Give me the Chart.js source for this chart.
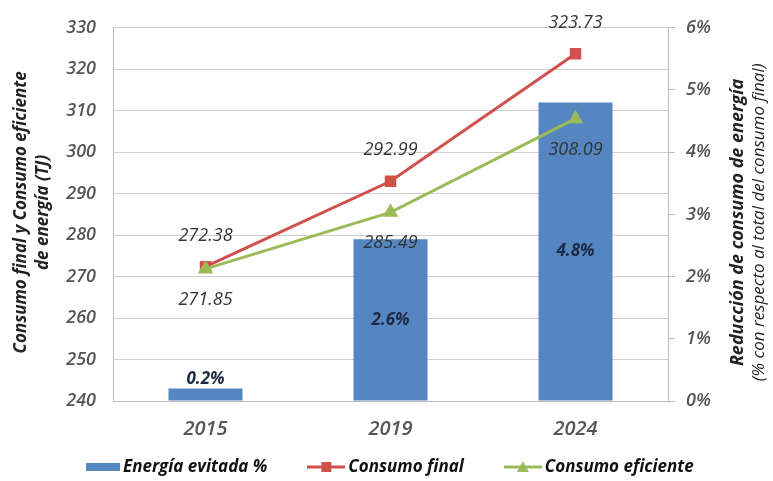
<!DOCTYPE html>
<html>
<head>
<meta charset="utf-8">
<script src="https://cdn.jsdelivr.net/npm/chart.js@4"></script>
<style>
  html, body { margin: 0; padding: 0; background: #fff; }
  #wrap { width: 773px; height: 481px; }
</style>
</head>
<body>
<div id="wrap"><canvas id="myChart" width="773" height="481"></canvas></div>
<script>
const years = ["2015", "2019", "2024"];
const consumo_final = [272.38, 292.99, 323.73];
const consumo_eficiente = [271.85, 285.49, 308.09];
const energia_evitada = [0.2, 2.6, 4.8]; // percent

const FONT = "'Open Sans', 'DejaVu Sans', sans-serif";
const TEXT = "#555";

// legend symbols: short line with the marker in the middle
function legendIcon(type, color) {
  const c = document.createElement("canvas");
  c.width = 38; c.height = 14;
  const g = c.getContext("2d");
  if (type === "bar") {
    g.fillStyle = color;
    g.fillRect(4, 3, 34, 8);
    return c;
  }
  g.strokeStyle = color;
  g.lineWidth = 3;
  g.beginPath(); g.moveTo(0, 7); g.lineTo(38, 7); g.stroke();
  g.fillStyle = color;
  if (type === "rect") {
    g.fillRect(14, 2, 10, 10);
  } else {
    g.beginPath(); g.moveTo(19, 1); g.lineTo(25, 12); g.lineTo(13, 12); g.closePath(); g.fill();
  }
  return c;
}

// value labels, axis titles and legend drawn on the canvas
const decorations = {
  id: "decorations",
  afterDatasetsDraw(chart) {
    const ctx = chart.ctx;
    ctx.save();
    ctx.textAlign = "center";
    ctx.textBaseline = "middle";

    // bar percentages
    const bars = chart.getDatasetMeta(0);
    ctx.font = "italic bold 17px " + FONT;
    ctx.fillStyle = "#1c2a44";
    bars.data.forEach((el, i) => {
      const h = el.base - el.y;
      const y = h > 40 ? el.y + h / 2 : el.y - 9;
      ctx.fillText(energia_evitada[i].toFixed(1) + "%", el.x, y);
    });

    // line values: final above, eficiente below
    ctx.font = "italic 18px " + FONT;
    ctx.fillStyle = "#333";
    chart.getDatasetMeta(1).data.forEach((el, i) => {
      ctx.fillText(consumo_final[i].toFixed(2), el.x, el.y - 31);
    });
    chart.getDatasetMeta(2).data.forEach((el, i) => {
      ctx.fillText(consumo_eficiente[i].toFixed(2), el.x, el.y + 31);
    });
    ctx.restore();
  },
  afterDraw(chart) {
    const ctx = chart.ctx;
    const area = chart.chartArea;
    const midY = (area.top + area.bottom) / 2;
    ctx.save();
    ctx.fillStyle = "#222";
    ctx.textAlign = "center";
    ctx.textBaseline = "middle";

    // left axis title
    ctx.save();
    ctx.translate(21, midY - 2);
    ctx.rotate(-Math.PI / 2);
    ctx.font = "italic bold 17px " + FONT;
    ctx.fillText("Consumo final y Consumo eficiente", 0, 0);
    ctx.fillText("de energía (TJ)", 0, 22);
    ctx.restore();

    // right axis title
    ctx.save();
    ctx.translate(738, midY + 8);
    ctx.rotate(-Math.PI / 2);
    ctx.font = "italic bold 18px " + FONT;
    ctx.fillText("Reducción de consumo de energía", 0, 0);
    ctx.font = "italic 17px " + FONT;
    ctx.fillText("(% con respecto al total del consumo final)", 0, 21);
    ctx.restore();

    // legend
    ctx.font = "italic bold 17px " + FONT;
    ctx.textAlign = "left";
    ctx.fillStyle = "#111";
    const y = 467;
    let x = 82;
    chart.data.datasets.forEach(d => {
      ctx.drawImage(d.legendIcon, x, y - 7);
      ctx.fillText(d.label, x + 41, y);
      x += 41 + ctx.measureText(d.label).width + 40;
    });
    ctx.restore();
  }
};

const data = {
  labels: years,
  datasets: [
    {
      type: "bar",
      label: "Energía evitada %",
      data: energia_evitada.map(v => v / 100),
      backgroundColor: "#5686c2",
      yAxisID: "y1",
      barPercentage: 0.8,
      categoryPercentage: 0.5,
      order: 2,
      legendIcon: legendIcon("bar", "#5686c2"),
    },
    {
      type: "line",
      label: "Consumo final",
      data: consumo_final,
      borderColor: "#d0504c",
      backgroundColor: "#d0504c",
      borderWidth: 3,
      pointStyle: "rect",
      pointRadius: 6,
      pointHoverRadius: 6,
      yAxisID: "y",
      order: 1,
      legendIcon: legendIcon("rect", "#d0504c"),
    },
    {
      type: "line",
      label: "Consumo eficiente",
      data: consumo_eficiente,
      borderColor: "#9bbb59",
      backgroundColor: "#9bbb59",
      borderWidth: 3,
      pointStyle: "triangle",
      pointRadius: 6,
      pointHoverRadius: 6,
      yAxisID: "y",
      order: 0,
      legendIcon: legendIcon("tri", "#9bbb59"),
    },
  ],
};

const tickFont = { family: FONT, size: 18, style: "italic", weight: "600" };

const config = {
  type: "bar",
  data,
  plugins: [decorations],
  options: {
    responsive: false,
    animation: false,
    layout: { padding: { top: 19, bottom: 40, left: 0, right: 0 } },
    plugins: {
      legend: { display: false },
      tooltip: { enabled: false },
    },
    scales: {
      x: {
        offset: true,
        grid: { display: false },
        border: { color: "#bdbdbd" },
        ticks: { color: TEXT, font: { family: FONT, size: 20, style: "italic", weight: "600" }, padding: 8 },
        afterFit(scale) { scale.height = 40; },
      },
      y: {
        position: "left",
        min: 240,
        max: 330,
        ticks: { stepSize: 10, color: TEXT, font: tickFont, padding: 17 },
        grid: { color: "#cfcfcf", drawTicks: false },
        border: { color: "#bdbdbd" },
        afterFit(scale) { scale.width = 113; },
      },
      y1: {
        position: "right",
        min: 0,
        max: 0.06,
        ticks: {
          stepSize: 0.01,
          color: TEXT,
          font: tickFont,
          padding: 11,
          callback: v => Math.round(v * 100) + "%",
        },
        grid: { drawOnChartArea: false, tickLength: 7, color: "#bdbdbd" },
        border: { color: "#bdbdbd" },
        afterFit(scale) { scale.width = 105; },
      },
    },
  },
};

const myChart = new Chart(document.getElementById("myChart"), config);
</script>
</body>
</html>
